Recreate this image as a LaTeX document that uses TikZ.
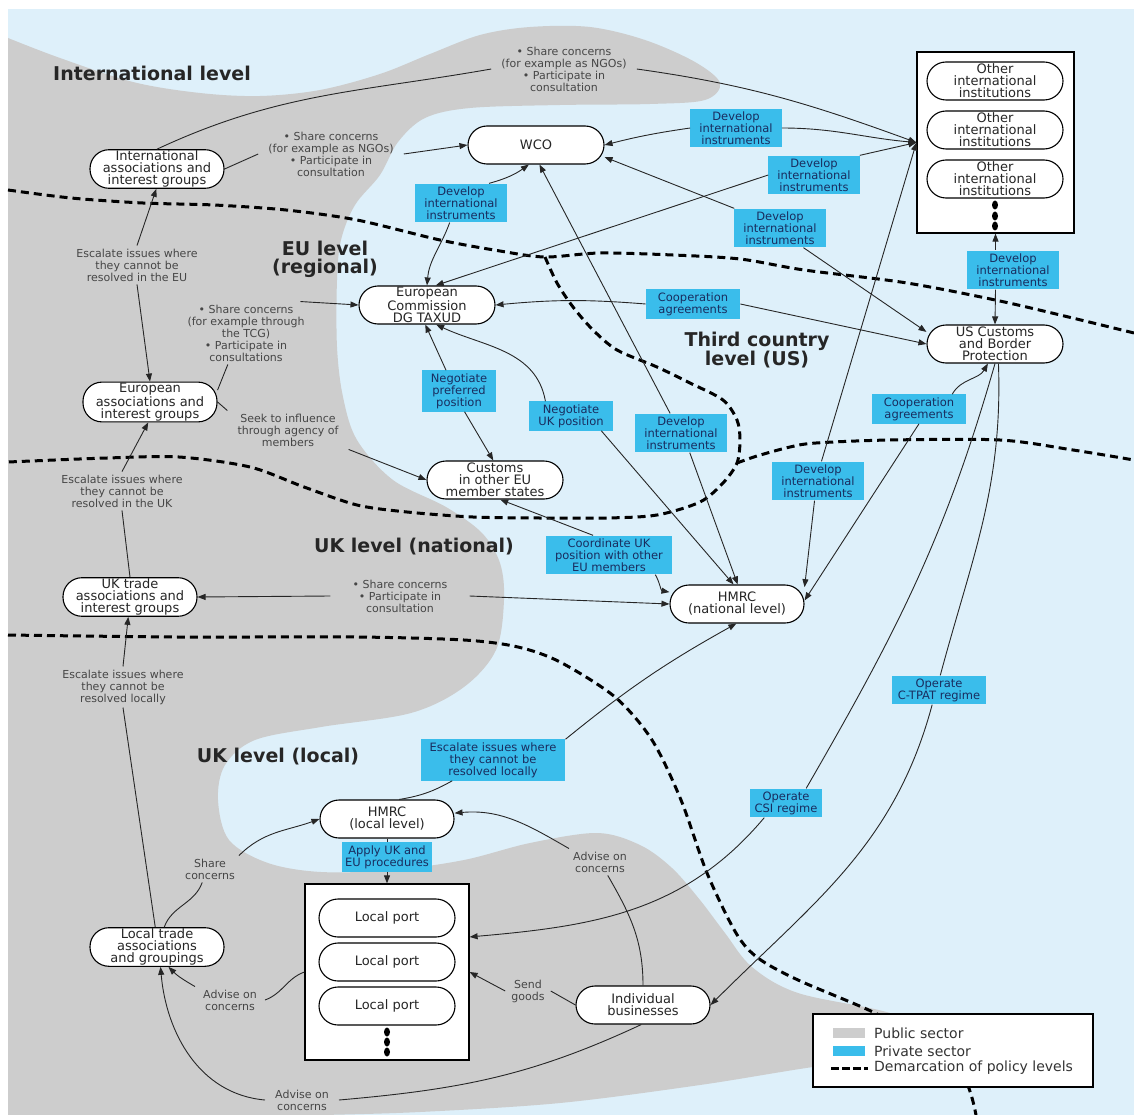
\documentclass[tikz,border=0pt]{standalone}
\usepackage{fontspec}
\setmainfont{DejaVu Sans}
\usetikzlibrary{arrows.meta}
\definecolor{skyback}{RGB}{222,240,250}
\definecolor{pubgrey}{RGB}{205,205,205}
\definecolor{privblue}{RGB}{58,189,235}
\definecolor{boxtext}{RGB}{25,45,95}
\definecolor{notetext}{RGB}{70,70,70}
\begin{document}
\begin{tikzpicture}[x=1pt, y=-1pt, >={Triangle[length=8pt,width=6pt]},
  org/.style={draw, line width=1.1pt, fill=white, rounded corners=19pt, align=center,
    minimum width=134pt, minimum height=38pt, inner xsep=0pt, inner ysep=1pt,
    font=\fontsize{13}{12}\selectfont, text=black!85},
  act/.style={fill=privblue, align=center, inner xsep=9pt, inner ysep=3pt,
    font=\fontsize{11.5}{12}\selectfont, text=boxtext},
  note/.style={align=center, inner xsep=10pt, inner ysep=3pt,
    font=\fontsize{11}{12}\selectfont, text=notetext},
  lvl/.style={align=center, inner sep=0pt, font=\fontsize{19}{18}\selectfont\bfseries, text=black!85},
  demarc/.style={line width=3pt, dash pattern=on 8pt off 5pt},
  link/.style={line width=0.9pt, black!85},
  legtext/.style={anchor=west, inner sep=0pt, font=\fontsize{14}{14}\selectfont, text=black!80}]
\useasboundingbox (0,0) rectangle (1134,1115);
\fill[white] (0,0) rectangle (1134,1115);
\fill[skyback] (8,9) rectangle (1134,1115);
\fill[pubgrey] (8,1115) -- plot[smooth, tension=0.55] coordinates {
  (8,38) (60,58) (133,82) (200,93) (260,96) (320,90) (380,74) (430,54) (480,35)
  (530,27) (590,27) (645,40) (695,62) (720,83) (705,100) (650,104) (560,105) (470,108)
  (425,118) (398,142) (380,175) (355,205) (341,240) (337,280) (337,347) (343,397)
  (357,440) (393,480) (446,507) (482,533) (500,563) (504,600) (496,650) (464,687)
  (411,713) (321,727) (255,740) (225,765) (218,800) (229,840) (268,863) (321,872)
  (393,870) (464,860) (530,843) (597,833) (640,845) (672,868) (700,900) (725,933)
  (752,967) (798,993) (890,1013) (950,1040) (880,1060) (813,1067) (700,1085)
  (560,1103) (420,1112) (321,1115)} -- cycle;

\draw[demarc] plot[smooth] coordinates {(8,190) (71,198) (143,203) (214,205) (286,210) (357,220) (440,240) (500,251) (545,257) (600,253) (673,255) (740,259) (804,270) (907,283) (1009,303) (1134,333)};
\draw[demarc] plot[smooth] coordinates {(545,257) (557,283) (573,307) (593,330) (617,350) (657,367) (690,383) (723,400) (737,420) (740,440) (737,463) (723,483) (700,502) (657,515) (607,518) (540,518) (473,517) (407,512) (357,505) (304,487) (250,467) (179,457) (107,458) (8,462)};
\draw[demarc] plot[smooth] coordinates {(737,463) (757,456) (790,447) (816,443) (890,440) (1000,440) (1073,450) (1134,460)};
\draw[demarc] plot[smooth] coordinates {(8,635) (178,637) (357,637) (464,640) (518,647) (560,662) (615,697) (652,740) (681,800) (707,873) (736,933) (758,958) (798,980) (875,1013) (930,1045) (965,1080) (976,1115)};

\node[lvl] (intlevel) at (152,73) {International level};
\node[lvl] (eulevel) at (325,259) {EU level\\(regional)};
\node[lvl] (uslevel) at (757,350) {Third country\\level (US)};
\node[lvl] (natlevel) at (414,547) {UK level (national)};
\node[lvl] (loclevel) at (278,757) {UK level (local)};

\node[draw, line width=1.2pt, fill=white, minimum width=157pt, minimum height=181pt] (otherbox) at (995.5,142.5) {};
\foreach \y/\n in {81/1,130/2,179/3}
  \node[org, minimum width=136pt] (other\n) at (995,\y) {Other\\international\\institutions};
\foreach \y in {205,216,226}
  \fill (995,\y) ellipse (3pt and 4.5pt);
\node[draw, line width=1.2pt, fill=white, minimum width=164pt, minimum height=176pt] (portbox) at (387,972) {};
\foreach \y/\n in {918/1,962/2,1006/3}
  \node[org, minimum width=136pt] (port\n) at (387,\y) {Local port};
\foreach \y in {1032,1042,1052}
  \fill (387,\y) ellipse (3pt and 4.5pt);

\node[org] (intassoc) at (157,169) {International\\associations and\\interest groups};
\node[org, minimum width=136pt] (wco) at (536,145) {WCO};
\node[org, minimum width=136pt] (ec) at (427,305) {European\\Commission\\DG TAXUD};
\node[org, minimum width=136pt] (uscbp) at (995,344) {US Customs\\and Border\\Protection};
\node[org] (eurassoc) at (150,402) {European\\associations and\\interest groups};
\node[org, minimum width=136pt] (custeu) at (495,480) {Customs\\in other EU\\member states};
\node[org] (uktrade) at (130,597) {UK trade\\associations and\\interest groups};
\node[org] (hmrcnat) at (737,604) {HMRC\\(national level)};
\node[org] (hmrcloc) at (387,819) {HMRC\\(local level)};
\node[org] (localtrade) at (157,947) {Local trade\\associations\\and groupings};
\node[org] (indiv) at (643,1005) {Individual\\businesses};

\node[note] (labtop) at (564,69) {• Share concerns\\(for example as NGOs)\\• Participate in\\consultation};
\node[note] (labwco) at (331,154) {• Share concerns\\(for example as NGOs)\\• Participate in\\consultation};
\node[note] (labeuesc) at (137,265) {Escalate issues where\\they cannot be\\resolved in the EU};
\node[note] (labeushare) at (246,333) {• Share concerns\\(for example through\\the TCG)\\• Participate in\\consultations};
\node[note] (labseek) at (288,430) {Seek to influence\\through agency of\\members};
\node[note] (labukesc) at (122,491) {Escalate issues where\\they cannot be\\resolved in the UK};
\node[note, inner xsep=22pt] (labukshare) at (400,596) {• Share concerns\\• Participate in\\consultation};
\node[note] (lablocesc) at (123,687) {Escalate issues where\\they cannot be\\resolved locally};
\node[note, inner xsep=4pt] (labshare) at (210,869) {Share\\concerns};
\node[note, inner xsep=4pt] (labadvr) at (600,862) {Advise on\\concerns};
\node[note, inner xsep=8pt] (labadvl) at (230,1000) {Advise on\\concerns};
\node[note, inner xsep=6pt] (labsend) at (528,991) {Send\\goods};
\node[note] (labadvb) at (302,1100) {Advise on\\concerns};

\node[act] (dvwcoother) at (736,128) {Develop\\international\\instruments};
\node[act] (dvecother) at (814,175) {Develop\\international\\instruments};
\node[act] (dvecwco) at (461,203) {Develop\\international\\instruments};
\node[act] (dvwcous) at (780,228) {Develop\\international\\instruments};
\node[act] (dvusother) at (1013,270) {Develop\\international\\instruments};
\node[act, inner xsep=12pt] (coopec) at (693,304) {Cooperation\\agreements};
\node[act] (negpref) at (459,391) {Negotiate\\preferred\\position};
\node[act] (neguk) at (571,416) {Negotiate\\UK position};
\node[act] (dvwcohm) at (681,433) {Develop\\international\\instruments};
\node[act, inner xsep=12pt] (coophm) at (919,409) {Cooperation\\agreements};
\node[act] (dvotherhm) at (818,481) {Develop\\international\\instruments};
\node[act] (coord) at (609,555) {Coordinate UK\\position with other\\EU members};
\node[act, inner xsep=6pt] (ctpat) at (939,690) {Operate\\C-TPAT regime};
\node[act] (escloc) at (493,760) {Escalate issues where\\they cannot be\\resolved locally};
\node[act, inner xsep=5pt] (csi) at (786,803) {Operate\\CSI regime};
\node[act, inner xsep=3pt] (apply) at (387,857) {Apply UK and\\EU procedures};

\draw[link] (intassoc.north) to[out=25,in=190] (labtop.west);
\draw[link,->] (labtop.east) to[out=-8,in=160] (otherbox.west);
\draw[link] (intassoc.east) -- (labwco.west);
\draw[link,->] (labwco.east) -- (wco.west);
\draw[link,<-] (wco.east) to[bend left=3] (dvwcoother.west);
\draw[link,->] (dvwcoother.east) to[out=0,in=175] (otherbox.west);
\draw[link,<-] (ec.66) -- (dvecother.west);
\draw[link,->] (dvecother.north east) -- (otherbox.west);
\draw[link,<-] (ec.north) to[out=85,in=-110] (dvecwco.240);
\draw[link,->] (dvecwco.35) to[bend right=10] (wco.-110);
\draw[link,<-] (wco.-10) -- (dvwcous.north west);
\draw[link,->] (dvwcous.-40) -- (uscbp.170);
\draw[link,<-] (wco.-80) -- (dvwcohm.119);
\draw[link,->] (dvwcohm.-66) -- (hmrcnat.88);
\draw[link,<-] (ec.-65) to[out=-25,in=100] (neguk.150);
\draw[link,->] (neguk.-26) -- (hmrcnat.100);
\draw[link,<-] (ec.-95) -- (negpref.122);
\draw[link,->] (negpref.-75) -- (custeu.95);
\draw[link,<-] (ec.east) to[bend left=5] (coopec.west);
\draw[link,->] (coopec.east) -- (uscbp.west);
\draw[link,<-] (uscbp.-110) to[out=-120,in=60] (coophm.24);
\draw[link,->] (coophm.south) -- (hmrcnat.3);
\draw[link,<-] (otherbox.west) -- (dvotherhm.80);
\draw[link,->] (dvotherhm.-100) -- (hmrcnat.14);
\draw[link] (uscbp.-90) to[out=-106,in=60] (csi.36);
\draw[link,->] (csi.-146) to[out=-130,in=5] (portbox.23);
\draw[link] (uscbp.-80) to[out=-88,in=75] (ctpat.85);
\draw[link,->] (ctpat.-115) to[out=-105,in=45] (indiv.east);
\draw[link] (hmrcloc.58) to[bend right=10] (escloc.-153);
\draw[link,->] (escloc.north east) to[bend left=5] (hmrcnat.-92);
\draw[link,->] (labadvr.north west) to[out=150,in=5] (hmrcloc.5);
\draw[link] (labadvr.-60) to[out=-60,in=90] (indiv.north);
\draw[link,->] (labsend.west) -- (portbox.east);
\draw[link] (indiv.west) -- (labsend.east);
\draw[link] (indiv.-95) to[out=-155,in=5] (labadvb.east);
\draw[link,->] (labadvb.west) to[out=175,in=-85] (localtrade.-80);
\draw[link] (portbox.west) to[out=200,in=20] (labadvl.east);
\draw[link,->] (labadvl.north west) to[out=150,in=-45] (localtrade.-60);
\draw[link] (localtrade.70) to[out=70,in=-110] (labshare.-120);
\draw[link,->] (labshare.north east) to[out=45,in=200] (hmrcloc.west);
\draw[link] (localtrade.95) -- (lablocesc.south);
\draw[link,->] (lablocesc.north) -- (uktrade.-95);
\draw[link] (uktrade.north) -- (labukesc.south);
\draw[link,->] (labukesc.north) -- (eurassoc.-95);
\draw[link,<-] (eurassoc.north) -- (labeuesc.south);
\draw[link,->] (labeuesc.north) -- (intassoc.-92);
\draw[link] (eurassoc.10) -- (labeushare.-120);
\draw[link,->] (labeushare.30) -- (ec.west);
\draw[link] (eurassoc.east) -- (labseek.north west);
\draw[link,->] (labseek.south east) -- (custeu.west);
\draw[link,<-] (uktrade.east) -- (labukshare.west);
\draw[link,->] (labukshare.east) -- (hmrcnat.west);
\draw[link,<-] (custeu.-75) -- (coord.129);
\draw[link,->] (coord.-23) to[out=-60,in=170] (hmrcnat.170);
\draw[link] (hmrcloc.south) -- (apply.north);
\draw[link,->] (apply.south) -- (portbox.north);
\draw[link,<-] (otherbox.south) -- (otherbox.south |- dvusother.north);
\draw[link,->] (otherbox.south |- dvusother.south) -- (uscbp.north);

\node[draw, line width=1.2pt, fill=white, minimum width=280pt, minimum height=73pt] (legend) at (953,1050.5) {};
\fill[pubgrey] (833,1028) rectangle (865,1038);
\fill[privblue] (833,1046) rectangle (865,1056);
\draw[line width=3pt, dash pattern=on 8pt off 3pt] (831,1068) -- (868,1068);
\node[legtext] (legpub) at (874,1033) {Public sector};
\node[legtext] (legpriv) at (874,1051) {Private sector};
\node[legtext] (legdem) at (874,1068) {Demarcation of policy levels};
\end{tikzpicture}
\end{document}
